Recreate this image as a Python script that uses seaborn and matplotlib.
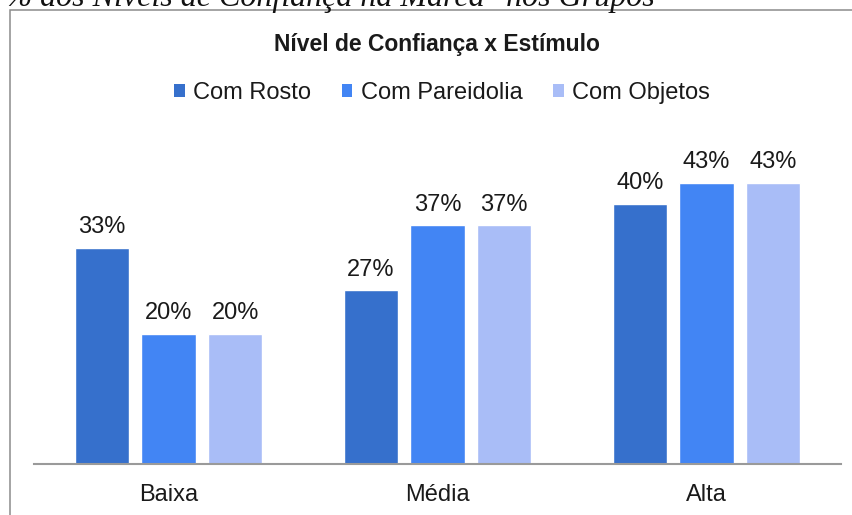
import pandas as pd
import numpy as np
import matplotlib
matplotlib.use('Agg')
import matplotlib.pyplot as plt
import seaborn as sns
from matplotlib.patches import Rectangle, Patch

# ─────────────────────────────────────────────
# DATA
# ─────────────────────────────────────────────
categories = ['Baixa', 'Média', 'Alta']
series = ['Com Rosto', 'Com Pareidolia', 'Com Objetos']
com_rosto = [33.3, 26.7, 40.0]
com_pareidolia = [20.0, 36.7, 43.3]
com_objetos = [20.0, 36.7, 43.3]
colors = ['#3670CC', '#4285F4', '#A9BDF7']

df = pd.DataFrame({
    'Nivel': categories * 3,
    'Estimulo': [s for s in series for _ in categories],
    'Valor': com_rosto + com_pareidolia + com_objetos,
})

# ─────────────────────────────────────────────
# PLOT
# ─────────────────────────────────────────────
sns.set_style('white')
plt.rcParams['font.family'] = ['Liberation Sans', 'DejaVu Sans']

W, H = 853, 515
fig = plt.figure(figsize=(W / 100, H / 100), dpi=100)
ax = fig.add_axes([34 / W, (H - 464) / H, 807 / W, 325 / H])

sns.barplot(data=df, x='Nivel', y='Valor', hue='Estimulo', order=categories,
            hue_order=series, palette=colors, width=0.745, gap=0.19,
            saturation=1, legend=False, ax=ax)

ax.set_ylim(0, 50)
ax.set_xlim(-0.5, 2.5)
ax.set_xlabel('')
ax.set_ylabel('')
ax.set_yticks([])
ax.tick_params(axis='x', length=0, pad=14.5, labelsize=17, labelcolor='#1a1a1a')
for side in ['top', 'right', 'left']:
    ax.spines[side].set_visible(False)
ax.spines['bottom'].set_color('#9a9a9a')
ax.spines['bottom'].set_linewidth(1.5)

for cont in ax.containers:
    for bar in cont:
        v = bar.get_height()
        ax.annotate(f'{v:.0f}%', (bar.get_x() + bar.get_width() / 2, v),
                    xytext=(0, 10.5), textcoords='offset points',
                    ha='center', va='baseline', fontsize=17, color='#1a1a1a')

# title and legend
fig.text(437 / W, 1 - 45 / H, 'Nível de Confiança x Estímulo', ha='center',
         va='center', fontsize=16.5, fontweight='bold', color='#1a1a1a')
handles = [Patch(facecolor=c, edgecolor='none') for c in colors]
fig.legend(handles, series, loc='center', bbox_to_anchor=(442 / W, 1 - 93 / H),
           ncol=3, frameon=False, fontsize=17, handlelength=0.45,
           handleheight=0.45, handletextpad=0.35, columnspacing=1.3,
           labelcolor='#1a1a1a')

# chart border box (continues past the right and bottom edges)
fig.add_artist(Rectangle((9.5 / W, -0.05), 1.0, 1 - 10 / H + 0.05,
                         transform=fig.transFigure, fill=False,
                         edgecolor='#8c8c8c', linewidth=1.1))

# caption above the box, cut off by the top edge as in the reference
fig.text(655 / W, 1 - 6 / H, '"% dos Níveis de Confiança na Marca" nos Grupos',
         ha='right', va='baseline', fontsize=23, style='italic',
         family=['Liberation Serif', 'DejaVu Serif'], color='#111111')

plt.savefig('out.png', dpi=100)
plt.close()
